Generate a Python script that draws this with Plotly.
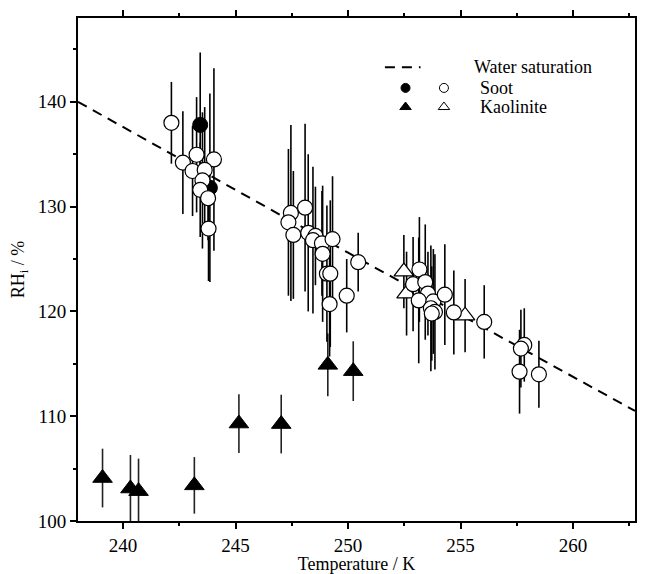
import plotly.graph_objects as go

# ---------------- data ----------------
# Water saturation line
ws_T = [238.0, 250.0, 262.75]
ws_RH = [140.0, 125.6, 110.5]

# Soot, filled circles
soot_f_T = [243.43, 243.86]
soot_f_RH = [137.8, 131.8]
soot_f_err = [6.9, 9.0]

# Soot, open circles
soot_o_T = [242.15, 242.66, 243.27, 244.04, 243.09, 243.63, 243.53, 243.43, 243.78, 243.80,
            247.46, 247.35, 247.57, 248.09, 248.23, 248.55, 248.44, 248.84, 248.87, 249.31,
            249.06, 249.21, 249.18, 249.94, 250.45,
            253.17, 252.89, 253.43, 253.55, 253.14, 253.79, 253.68, 253.86, 253.72, 254.30,
            254.70, 256.05, 257.83, 257.68, 257.62, 258.48]
soot_o_RH = [138.0, 134.2, 134.95, 134.5, 133.4, 133.5, 132.5, 131.6, 130.8, 127.9,
             129.4, 128.5, 127.3, 129.9, 127.5, 127.2, 126.8, 126.5, 125.5, 126.9,
             123.6, 123.6, 120.7, 121.5, 124.7,
             124.0, 122.6, 122.8, 121.7, 121.05, 120.95, 120.3, 119.95, 119.8, 121.6,
             119.9, 119.0, 116.8, 116.45, 114.25, 114.0]
soot_o_err = [3.9, 4.9, 5.5, 8.7, 4.3, 6.0, 6.5, 4.5, 4.0, 5.0,
              8.4, 7.0, 6.1, 8.0, 7.5, 4.7, 7.0, 5.0, 6.5, 6.0,
              6.5, 7.0, 5.0, 3.5, 2.8,
              5.0, 4.5, 5.5, 4.0, 6.0, 5.0, 6.0, 5.5, 4.5, 4.8,
              4.0, 3.5, 3.5, 3.7, 4.0, 3.2]

# Kaolinite, filled triangles
kao_f_T = [239.09, 240.33, 240.69, 243.17, 245.15, 247.03, 249.10, 250.23]
kao_f_RH = [104.1, 103.1, 102.85, 103.4, 109.3, 109.25, 114.9, 114.3]
kao_f_err = [2.8, 3.2, 3.1, 2.7, 2.8, 2.8, 3.0, 2.85]

# Kaolinite, open triangles
kao_o_T = [252.48, 252.60, 255.20]
kao_o_RH = [123.8, 121.7, 119.6]
kao_o_err = [3.5, 4.0, 3.5]

# ---------------- figure ----------------
FONT = "Liberation Serif, Times New Roman, Times, serif"
FS = 18
fig = go.Figure()

fig.add_trace(go.Scatter(x=ws_T, y=ws_RH, mode="lines",
                         line=dict(color="black", width=2, dash="10px,7px"),
                         showlegend=False, hoverinfo="skip"))

def err(vals, color="black"):
    return dict(type="data", array=vals, visible=True, width=0, thickness=1.6, color=color)

fig.add_trace(go.Scatter(x=kao_f_T, y=kao_f_RH, mode="markers", error_y=err(kao_f_err, "#222"),
                         marker=dict(symbol="triangle-up", size=17, color="black",
                                     line=dict(color="black", width=1)),
                         showlegend=False))
fig.add_trace(go.Scatter(x=kao_o_T, y=kao_o_RH, mode="markers", error_y=err(kao_o_err),
                         marker=dict(symbol="triangle-up", size=17, color="white",
                                     line=dict(color="black", width=1.2)),
                         showlegend=False))
fig.add_trace(go.Scatter(x=soot_f_T, y=soot_f_RH, mode="markers", error_y=err(soot_f_err),
                         marker=dict(symbol="circle", size=15, color="black",
                                     line=dict(color="black", width=1)),
                         showlegend=False))
fig.add_trace(go.Scatter(x=soot_o_T, y=soot_o_RH, mode="markers", error_y=err(soot_o_err),
                         marker=dict(symbol="circle", size=15, color="white",
                                     line=dict(color="black", width=1.2)),
                         showlegend=False))

# ---------------- hand-made legend (overlay axes spanning the plot area) ----------------
lx_line = [0.551, 0.615]
ly_ws = 0.902
ly_soot = 0.861
ly_kao = 0.823
lx_fill = 0.588
lx_open = 0.657
lx_text_ws = 0.708
lx_text = 0.719

fig.add_trace(go.Scatter(x=lx_line, y=[ly_ws, ly_ws], mode="lines", xaxis="x2", yaxis="y2",
                         line=dict(color="black", width=2, dash="10px,7px"),
                         showlegend=False, hoverinfo="skip"))
fig.add_trace(go.Scatter(x=[lx_fill, lx_open], y=[ly_soot, ly_soot], mode="markers",
                         xaxis="x2", yaxis="y2",
                         marker=dict(symbol="circle", size=9, color=["black", "white"],
                                     line=dict(color="black", width=1)),
                         showlegend=False, hoverinfo="skip"))
fig.add_trace(go.Scatter(x=[lx_fill, lx_open], y=[ly_kao, ly_kao], mode="markers",
                         xaxis="x2", yaxis="y2",
                         marker=dict(symbol="triangle-up", size=10, color=["black", "white"],
                                     line=dict(color="black", width=1)),
                         showlegend=False, hoverinfo="skip"))

for txt, xx, yy in [("Water saturation", lx_text_ws, ly_ws),
                    ("Soot", lx_text, ly_soot),
                    ("Kaolinite", lx_text, ly_kao)]:
    fig.add_annotation(x=xx, y=yy, xref="x2", yref="y2", text=txt, showarrow=False,
                       xanchor="left", yanchor="middle",
                       font=dict(family=FONT, size=FS, color="black"))

axis_common = dict(showline=True, linecolor="black", linewidth=2, mirror="ticks",
                   ticks="outside", ticklen=6, tickwidth=1.5, tickcolor="black",
                   showgrid=False, zeroline=False,
                   tickfont=dict(family=FONT, size=FS + 1, color="black"))

fig.update_layout(
    width=637, height=566,
    margin=dict(l=70, r=2, t=7, b=50),
    paper_bgcolor="white", plot_bgcolor="white",
    showlegend=False,
    xaxis=dict(range=[238, 262.75], dtick=5, tick0=240,
               minor=dict(dtick=2.5, tick0=240, ticks="outside", ticklen=3, tickcolor="black"),
               title=dict(text="Temperature / K", font=dict(family=FONT, size=FS, color="black"),
                          standoff=4),
               **axis_common),
    yaxis=dict(range=[100, 148], dtick=10, tick0=100,
               minor=dict(dtick=5, tick0=100, ticks="outside", ticklen=3, tickcolor="black"),
               title=dict(text="RH<sub>i</sub> / %", font=dict(family=FONT, size=FS, color="black"),
                          standoff=12),
               **axis_common),
    xaxis2=dict(overlaying="x", range=[0, 1], visible=False, fixedrange=True),
    yaxis2=dict(overlaying="y", range=[0, 1], visible=False, fixedrange=True),
)

fig.write_html("out.html")
